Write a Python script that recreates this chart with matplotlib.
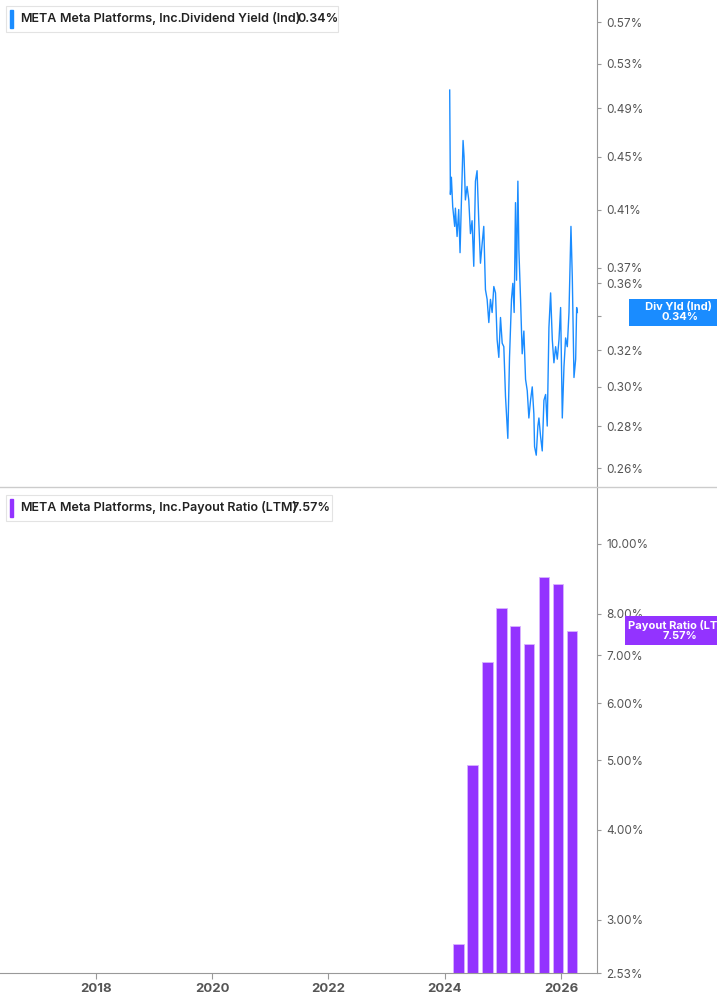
import matplotlib.pyplot as plt
import numpy as np
from matplotlib.ticker import FixedLocator, NullLocator

plt.rcParams["font.family"] = ["Inter", "DejaVu Sans"]

# dividend yield (%), offsets in years from 2024
yld_t = [.086, .098, .115, .138, .172, .184, .213, .241, .264, .287, .316, .333, .356, .385,
         .414, .443, .471, .5, .529, .557, .586, .615, .644, .672, .701, .730, .759, .787,
         .816, .845, .874, .902, .931, .960, .989, 1.017, 1.046, 1.086, 1.115, 1.149, 1.172,
         1.195, 1.218, 1.236, 1.259, 1.276, 1.305, 1.333, 1.362, 1.391, 1.420, 1.448, 1.477,
         1.506, 1.534, 1.546, 1.575, 1.603, 1.621, 1.649, 1.678, 1.707, 1.736, 1.764, 1.793,
         1.822, 1.851, 1.879, 1.908, 1.937, 1.966, 1.994, 2.023, 2.052, 2.080, 2.109, 2.138,
         2.172, 2.195, 2.224, 2.253, 2.270, 2.282]
yld_v = [.506, .421, .434, .412, .398, .411, .391, .410, .380, .415, .463, .450, .417, .427,
         .417, .393, .402, .371, .431, .439, .402, .373, .386, .398, .356, .350, .336, .350,
         .342, .358, .354, .326, .316, .339, .324, .322, .295, .274, .316, .350, .360, .342,
         .415, .362, .431, .382, .350, .318, .331, .304, .298, .284, .293, .300, .286, .270,
         .266, .280, .284, .275, .268, .293, .296, .280, .333, .354, .326, .313, .322, .315,
         .326, .345, .284, .311, .327, .322, .342, .398, .364, .305, .315, .345, .342]

pay_t = [2024.24, 2024.48, 2024.74, 2024.98, 2025.21, 2025.45, 2025.71, 2025.95, 2026.19]
pay_v = [2.78, 4.93, 6.86, 8.15, 7.69, 7.26, 9.0, 8.80, 7.57]

yld_ticks = [0.26, 0.28, 0.30, 0.32, 0.34, 0.36, 0.37, 0.41, 0.45, 0.49, 0.53, 0.57]
pay_ticks = [2.53, 3, 4, 5, 6, 7, 8, 10]
years = [2018, 2020, 2022, 2024, 2026]

BLUE = "#1a8cff"
PURPLE = "#9333ff"
GRAY = "#999999"
TXT = "#555555"
W, H = 717, 1005
xlim = (2016.35, 2026.62)

fig = plt.figure(figsize=(W / 100, H / 100), dpi=100)
ax1 = fig.add_axes([0, 1 - 487 / H, 597 / W, 487 / H])
ax2 = fig.add_axes([0, 1 - 973 / H, 597 / W, 486 / H])

for ax in (ax1, ax2):
    ax.set_xlim(*xlim)
    ax.set_yscale("log")
    ax.yaxis.tick_right()
    for s in ("left", "top", "bottom"):
        ax.spines[s].set_visible(False)
    ax.spines["right"].set_color(GRAY)
    ax.yaxis.set_minor_locator(NullLocator())
    ax.tick_params(axis="y", colors=GRAY, labelcolor=TXT, labelsize=8.5, length=3)

ax1.plot(2024 + np.array(yld_t), yld_v, color=BLUE, lw=1)
ax1.set_ylim(0.2515, 0.593)
ax1.yaxis.set_major_locator(FixedLocator(yld_ticks))
ax1.set_yticklabels(["" if v == 0.34 else f"{v:.2f}%" for v in yld_ticks])
ax1.set_xticks([])

ax2.bar(pay_t, pay_v, width=0.18, color=PURPLE, edgecolor="#d9b3ff", lw=0.6)
ax2.set_ylim(2.53, 12.0)
ax2.yaxis.set_major_locator(FixedLocator(pay_ticks))
ax2.set_yticklabels([f"{v:.2f}%" for v in pay_ticks])
ax2.set_xticks(years)
ax2.set_xticklabels([str(y) for y in years], fontweight="bold")
ax2.spines["bottom"].set_visible(True)
ax2.spines["bottom"].set_color(GRAY)
ax2.tick_params(axis="x", colors=GRAY, labelcolor=TXT, labelsize=9.5, length=4)

# panel separator across the full width
fig.add_artist(plt.Line2D([0, 1], [1 - 487 / H] * 2, color="#cccccc", lw=1))

# legends
def legend(y, color, metric, val, x_metric, x_val, box_w):
    fig.patches.append(plt.Rectangle((6 / W, 1 - (y + 13) / H), box_w / W, 26 / H,
                                     transform=fig.transFigure, fc="white", ec="#e3e3e3", lw=0.8))
    fig.patches.append(plt.Rectangle((10 / W, 1 - (y + 9) / H), 3 / W, 18 / H,
                                     transform=fig.transFigure, color=color))
    kw = dict(fontsize=9, fontweight="semibold", va="center", color="#222")
    fig.text(20 / W, 1 - y / H, "META", **kw)
    fig.text(60 / W, 1 - y / H, "Meta Platforms, Inc.", **kw)
    fig.text(x_metric / W, 1 - y / H, metric, **kw)
    fig.text(x_val / W, 1 - y / H, val, **kw)

legend(19, BLUE, "Dividend Yield (Ind)", "0.34%", 181, 297, 332)
legend(508, PURPLE, "Payout Ratio (LTM)", "7.57%", 182, 291, 326)

def badge(ax, val, line1, line2, color):
    ax.annotate(f"{line1}\n{line2}", xy=(1.0, val), xycoords=("axes fraction", "data"),
                xytext=(60, 0), textcoords="offset points", ha="center", va="center",
                fontsize=8, fontweight="bold", color="white", linespacing=1.0,
                bbox=dict(boxstyle="square,pad=0.35", fc=color, ec="none"),
                annotation_clip=False, zorder=10)

badge(ax1, 0.342, "     Div Yld (Ind)      ", "0.34%", BLUE)
badge(ax2, 7.57, "Payout Ratio (LTM)", "7.57%", PURPLE)

fig.savefig("out.png", dpi=100)
